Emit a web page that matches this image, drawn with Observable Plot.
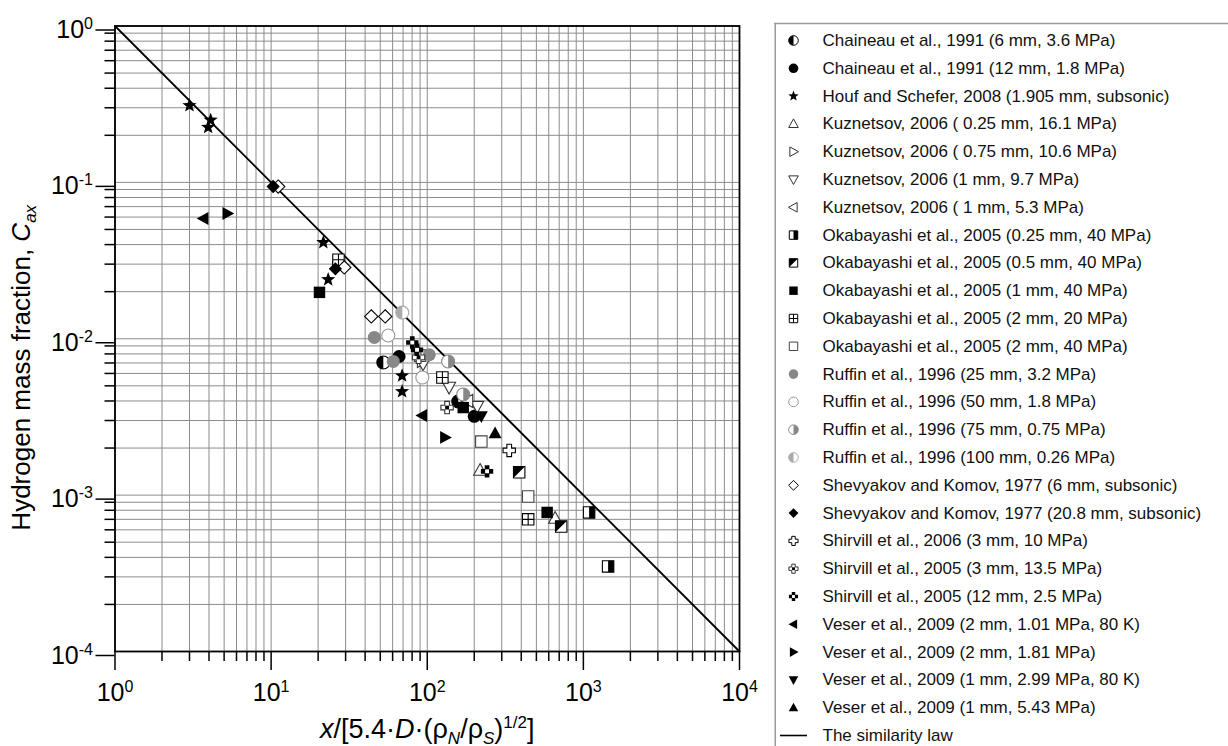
<!DOCTYPE html>
<html><head><meta charset="utf-8">
<script src="https://cdn.jsdelivr.net/npm/d3@7"></script>
<script src="https://cdn.jsdelivr.net/npm/@observablehq/plot@0.6"></script>
<style>
body{margin:0;background:#fff;}
#wrap{position:relative;width:1228px;height:746px;overflow:hidden;background:#fff;}
#wrap svg{position:absolute;top:0;}
</style></head><body><div id="wrap"></div>
<script>
// ---------- DATA ----------
const seriesNames = [
  "Chaineau et al., 1991 (6 mm, 3.6 MPa)",
  "Chaineau et al., 1991 (12 mm, 1.8 MPa)",
  "Houf and Schefer, 2008 (1.905 mm, subsonic)",
  "Kuznetsov, 2006 ( 0.25 mm, 16.1 MPa)",
  "Kuznetsov, 2006 ( 0.75 mm, 10.6 MPa)",
  "Kuznetsov, 2006 (1 mm, 9.7 MPa)",
  "Kuznetsov, 2006 ( 1 mm, 5.3 MPa)",
  "Okabayashi et al., 2005 (0.25 mm, 40 MPa)",
  "Okabayashi et al., 2005 (0.5 mm, 40 MPa)",
  "Okabayashi et al., 2005 (1 mm, 40 MPa)",
  "Okabayashi et al., 2005 (2 mm, 20 MPa)",
  "Okabayashi et al., 2005 (2 mm, 40 MPa)",
  "Ruffin et al., 1996 (25 mm, 3.2 MPa)",
  "Ruffin et al., 1996 (50 mm, 1.8 MPa)",
  "Ruffin et al., 1996 (75 mm, 0.75 MPa)",
  "Ruffin et al., 1996 (100 mm, 0.26 MPa)",
  "Shevyakov and Komov, 1977 (6 mm, subsonic)",
  "Shevyakov and Komov, 1977 (20.8 mm, subsonic)",
  "Shirvill et al., 2006 (3 mm, 10 MPa)",
  "Shirvill et al., 2005 (3 mm, 13.5 MPa)",
  "Shirvill et al., 2005 (12 mm, 2.5 MPa)",
  "Veser et al., 2009 (2 mm, 1.01 MPa, 80 K)",
  "Veser et al., 2009 (2 mm, 1.81 MPa)",
  "Veser et al., 2009 (1 mm, 2.99 MPa, 80 K)",
  "Veser et al., 2009 (1 mm, 5.43 MPa)"
];
const lawName = "The similarity law";
const seriesX = [
  [52.3, 158],
  [66, 27.0, 200],
  [3.0, 4.1, 3.95, 21.6, 23.2, 69, 69, 88],
  [218, 659],
  [93],
  [94, 138, 209],
  [182],
  [1088, 1440],
  [388, 721],
  [20.4, 170, 586],
  [27, 125, 443],
  [90, 222, 443],
  [45.8, 60.6, 103],
  [56.3, 93],
  [136, 170],
  [69.2],
  [11.1, 29.4, 43.8, 53.8],
  [10.3, 25.8],
  [335],
  [134, 88],
  [80.2, 241.6, 86],
  [3.69, 92.9],
  [5.25, 130],
  [222],
  [272]
];
const seriesY = [
  [0.00705, 0.00397],
  [0.0077, 0.030, 0.00319],
  [0.31, 0.25, 0.225, 0.0413, 0.0239, 0.0058, 0.0046, 0.0082],
  [0.00144, 0.00071],
  [0.0072],
  [0.0069, 0.0049, 0.0037],
  [0.0040],
  [0.000775, 0.00035],
  [0.0014, 0.00063],
  [0.0198, 0.00363, 0.000775],
  [0.032, 0.00565, 0.0007],
  [0.0078, 0.0022, 0.00098],
  [0.0102, 0.00716, 0.0079],
  [0.0105, 0.00565],
  [0.00716, 0.0044],
  [0.0147],
  [0.094, 0.0286, 0.0139, 0.0139],
  [0.0941, 0.028],
  [0.00193],
  [0.00363, 0.0076],
  [0.00946, 0.00142, 0.0085],
  [0.0588, 0.00323],
  [0.0633, 0.00234],
  [0.0032],
  [0.00248]
];
const lawX = [1, 10000];
const lawY = [1, 0.0001];
const xDecades = [1, 10, 100, 1000, 10000];
const yDecades = [0.0001, 0.001, 0.01, 0.1, 1];

// ---------- SYMBOLS ----------
const sym = f => ({draw(c, size){ f(c, Math.sqrt(size / Math.PI)); }});
const PI = Math.PI;
const SHAPES = {
  circle: sym((c,R)=>{c.moveTo(R,0); c.arc(0,0,R,0,2*PI);}),
  halfL: sym((c,R)=>{c.moveTo(0,-R); c.arc(0,0,R,-PI/2,PI/2,true); c.closePath();}),
  halfR: sym((c,R)=>{c.moveTo(0,-R); c.arc(0,0,R,-PI/2,PI/2,false); c.closePath();}),
  square: sym((c,R)=>{const s=R*0.88; c.rect(-s,-s,2*s,2*s);}),
  sqHalfR: sym((c,R)=>{const s=R*0.88; c.rect(0,-s,s,2*s);}),
  sqTriUL: sym((c,R)=>{const s=R*0.88; c.moveTo(-s,-s); c.lineTo(s,-s); c.lineTo(-s,s); c.closePath();}),
  sqGrid: sym((c,R)=>{const s=R*0.88; c.moveTo(-s,0); c.lineTo(s,0); c.moveTo(0,-s); c.lineTo(0,s);}),
  diamond: sym((c,R)=>{const s=R*1.02; c.moveTo(0,-s); c.lineTo(s,0); c.lineTo(0,s); c.lineTo(-s,0); c.closePath();}),
  triU: sym((c,R)=>{const s=R*1.05; c.moveTo(0,-s); c.lineTo(s*0.95,s*0.72); c.lineTo(-s*0.95,s*0.72); c.closePath();}),
  triD: sym((c,R)=>{const s=R*1.05; c.moveTo(0,s); c.lineTo(s*0.95,-s*0.72); c.lineTo(-s*0.95,-s*0.72); c.closePath();}),
  triL: sym((c,R)=>{const s=R*1.05; c.moveTo(-s,0); c.lineTo(s*0.72,-s*0.95); c.lineTo(s*0.72,s*0.95); c.closePath();}),
  triR: sym((c,R)=>{const s=R*1.05; c.moveTo(s,0); c.lineTo(-s*0.72,-s*0.95); c.lineTo(-s*0.72,s*0.95); c.closePath();}),
  star: sym((c,R)=>{const s=R*1.15; for(let i=0;i<10;i++){const a=-PI/2+i*PI/5, r=i%2?s*0.42:s; const px=r*Math.cos(a), py=r*Math.sin(a); i?c.lineTo(px,py):c.moveTo(px,py);} c.closePath();}),
  cross: sym((c,R)=>{const a=R*0.36,b=R*0.95; c.moveTo(-a,-b); c.lineTo(a,-b); c.lineTo(a,-a); c.lineTo(b,-a); c.lineTo(b,a); c.lineTo(a,a); c.lineTo(a,b); c.lineTo(-a,b); c.lineTo(-a,a); c.lineTo(-b,a); c.lineTo(-b,-a); c.lineTo(-a,-a); c.closePath();}),
  center: sym((c,R)=>{const a=R*0.3; c.rect(-a,-a,2*a,2*a);})
};
const K = "#000", W = "#fff";
const styles = [
  [["circle",W,K],["halfL",K,"none"]],
  [["circle",K,"none"]],
  [["star",K,"none"]],
  [["triU",W,"#333"]],
  [["triR",W,"#333"]],
  [["triD",W,"#333"]],
  [["triL",W,"#333"]],
  [["square",W,K],["sqHalfR",K,"none"]],
  [["square",W,K],["sqTriUL",K,"none"]],
  [["square",K,"none"]],
  [["square",W,K],["sqGrid","none",K]],
  [["square",W,"#444"]],
  [["circle","#888","none"]],
  [["circle",W,"#999"]],
  [["circle",W,"#888"],["halfR","#888","none"]],
  [["circle",W,"#aaa"],["halfL","#aaa","none"]],
  [["diamond",W,K]],
  [["diamond",K,"none"]],
  [["cross",W,K]],
  [["cross",W,"#333"],["center",K,"none"]],
  [["cross",K,"none"],["center",W,"none"]],
  [["triL",K,"none"]],
  [["triR",K,"none"]],
  [["triD",K,"none"]],
  [["triU",K,"none"]]
];

// ---------- CHART ----------
const minorX = xDecades.slice(0,-1).flatMap(d => [2,3,4,5,6,7,8,9].map(k => k*d));
const minorY = yDecades.slice(0,-1).flatMap(d => [2,3,4,5,6,7,8,9].map(k => k*d));
const points = seriesX.map((xs,i) => xs.map((x,j) => ({x, y: seriesY[i][j]})));
const lawPts = lawX.map((x,i) => ({x, y: lawY[i]}));
const FONT = "'Liberation Sans', Arial, Helvetica, sans-serif";

const dotMarks = [];
styles.forEach((parts,i) => parts.forEach(([shape, fill, stroke]) => {
  dotMarks.push(Plot.dot(points[i], {x:"x", y:"y", symbol: SHAPES[shape], r: 6.5, fill, stroke, strokeWidth: 1.1}));
}));

const yTitle = "Hydrogen mass fraction, Cax";
const xTitle = "x/[5.4·D·(ρN/ρS)1/2]";

const chart = Plot.plot({
  width: 774, height: 746,
  marginLeft: 114.5, marginRight: 35, marginTop: 25.5, marginBottom: 95,
  x: {type: "log", domain: [1, 10000]},
  y: {type: "log", domain: [0.0001, 1]},
  style: {fontFamily: FONT, background: "white", color: "black"},
  marks: [
    Plot.ruleX(minorX.concat(xDecades), {stroke: "#8c8c8c", strokeWidth: 1}),
    Plot.ruleY(minorY.concat(yDecades), {stroke: "#8c8c8c", strokeWidth: 1}),
    Plot.axisX({ticks: minorX, tickSize: 10, tickFormat: () => "", strokeWidth: 1.5, label: null}),
    Plot.axisX({ticks: xDecades, tickSize: 19, tickPadding: 13, tickFormat: d => "10^" + Math.round(Math.log10(d)), fontSize: 25, strokeWidth: 1.5, label: null}),
    Plot.axisY({ticks: minorY, tickSize: 10, tickFormat: () => "", strokeWidth: 1.5, label: null}),
    Plot.axisY({ticks: yDecades, tickSize: 19, tickPadding: 3, dy: 4, tickFormat: d => "10^" + Math.round(Math.log10(d)), fontSize: 25, strokeWidth: 1.5, label: null}),
    Plot.frame({stroke: "black", strokeWidth: 1.8}),
    Plot.line(lawPts, {x: "x", y: "y", stroke: "black", strokeWidth: 1.8}),
    ...dotMarks,
    Plot.text([yTitle], {frameAnchor: "left", rotate: -90, textAnchor: "middle", lineAnchor: "bottom", dx: -85, dy: 29, fontSize: 26, fill: "black", text: d => d}),
    Plot.text([xTitle], {frameAnchor: "bottom", textAnchor: "middle", lineAnchor: "bottom", dy: 86, fontSize: 27, fill: "black", text: d => d})
  ]
});

// ---------- LEGEND ----------
const rowY = i => 40 + i * 27.8;
const legendRows = seriesNames.map((name, i) => ({name, y: rowY(i)}));
const lawRow = [{name: lawName, y: rowY(seriesNames.length)}];
const legendDots = [];
styles.forEach((parts,i) => parts.forEach(([shape, fill, stroke]) => {
  legendDots.push(Plot.dot([legendRows[i]], {x: () => 19, y: "y", symbol: SHAPES[shape], r: 4.8, fill, stroke, strokeWidth: 1}));
}));
const legend = Plot.plot({
  width: 454, height: 746, margin: 0,
  x: {type: "identity", axis: null},
  y: {type: "identity", axis: null},
  style: {fontFamily: FONT, background: "transparent"},
  marks: [
    Plot.ruleX([0.75], {y1: 23, y2: 746, stroke: "#9a9a9a", strokeWidth: 1.5}),
    Plot.ruleY([23], {x1: 0, x2: 454, stroke: "#9a9a9a", strokeWidth: 1.5}),
    ...legendDots,
    Plot.ruleY(lawRow, {y: "y", x1: () => 6, x2: () => 33, stroke: "black", strokeWidth: 1.6}),
    Plot.text(legendRows.concat(lawRow), {x: () => 48, y: "y", text: "name", textAnchor: "start", fontSize: 17, fill: "#111"})
  ]
});

// ---------- RICH TEXT (superscripts / subscripts) ----------
d3.select(chart).selectAll("text").each(function(){
  const m = /^10\^(-?\d+)$/.exec(this.textContent);
  if (!m) return;
  const t = d3.select(this); t.text("");
  t.append("tspan").text("10");
  t.append("tspan").attr("dy", -9).attr("font-size", "16px").text(m[1]);
});
function rich(svg, plain, parts){
  d3.select(svg).selectAll("text").filter(function(){ return this.textContent === plain; }).each(function(){
    const t = d3.select(this); t.text("");
    for (const p of parts){
      const s = t.append("tspan").text(p.t);
      if (p.i) s.attr("font-style", "italic");
      if (p.dy) s.attr("dy", p.dy);
      if (p.fs) s.attr("font-size", p.fs);
    }
  });
}
rich(chart, yTitle, [
  {t: "Hydrogen mass fraction, "}, {t: "C", i: 1}, {t: "ax", i: 1, dy: 6, fs: "17px"}
]);
rich(chart, xTitle, [
  {t: "x", i: 1}, {t: "/[5.4·"}, {t: "D", i: 1}, {t: "·(ρ"},
  {t: "N", i: 1, dy: 6, fs: "17px"}, {t: "/ρ", dy: -6}, {t: "S", i: 1, dy: 6, fs: "17px"},
  {t: ")", dy: -6}, {t: "1/2", dy: -10, fs: "17px"}, {t: "]", dy: 10}
]);

const wrap = document.getElementById("wrap");
chart.style.left = "0px";
legend.style.left = "774px";
wrap.appendChild(chart);
wrap.appendChild(legend);
</script>
</body></html>
